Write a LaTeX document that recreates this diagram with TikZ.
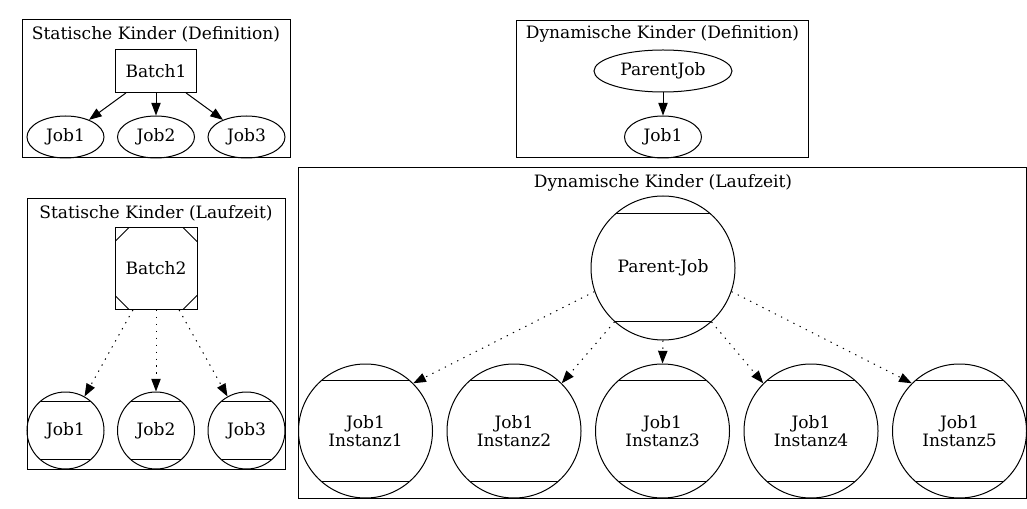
\documentclass[tikz,border=0pt]{standalone}
\usepackage{fontspec}
\setmainfont{DejaVu Serif}
\usetikzlibrary{arrows.meta,positioning,shapes.geometric}

\begin{document}
\begin{tikzpicture}[
  x=0.75pt, y=-0.75pt,
  font=\fontsize{12.8}{13.5}\selectfont,
  cluster/.style={draw, line width=0.75pt},
  title/.style={inner sep=0pt},
  jobbox/.style={draw, line width=0.75pt, minimum width=60.75pt, minimum height=32.25pt, inner sep=0pt},
  jobell/.style={draw, ellipse, line width=0.75pt, minimum width=57.75pt, minimum height=31.5pt, inner sep=0pt},
  mcircle/.style={draw, circle, line width=0.75pt, minimum size=#1, inner sep=0pt, align=center,
    path picture={
      \draw[line width=0.75pt] ([yshift=-0.125*#1]path picture bounding box.north west) -- ([yshift=-0.125*#1]path picture bounding box.north east);
      \draw[line width=0.75pt] ([yshift=0.125*#1]path picture bounding box.south west) -- ([yshift=0.125*#1]path picture bounding box.south east);
    }},
  msquare/.style={draw, line width=0.75pt, minimum size=61.5pt, inner sep=0pt,
    path picture={
      \draw[line width=0.75pt] ([yshift=-10.5pt]path picture bounding box.north west) -- ([xshift=10.5pt]path picture bounding box.north west);
      \draw[line width=0.75pt] ([yshift=-10.5pt]path picture bounding box.north east) -- ([xshift=-10.5pt]path picture bounding box.north east);
      \draw[line width=0.75pt] ([yshift=10.5pt]path picture bounding box.south west) -- ([xshift=10.5pt]path picture bounding box.south west);
      \draw[line width=0.75pt] ([yshift=10.5pt]path picture bounding box.south east) -- ([xshift=-10.5pt]path picture bounding box.south east);
    }},
  arrow/.style={-{Triangle[length=9.5pt, width=7pt]}, line width=0.75pt},
  dotarrow/.style={arrow, dash pattern=on 1pt off 4.2pt}
]
\useasboundingbox (0,0) rectangle (1027,509);

\draw[cluster] (22,20) rectangle (290,158);
\node[title] (t1) at (156,34) {Statische Kinder (Definition)};
\node[jobbox] (batch1) at (156,71) {Batch1};
\node[jobell] (s1job1) at (65.5,137) {Job1};
\node[jobell] (s1job2) at (156,137) {Job2};
\node[jobell] (s1job3) at (246.5,137) {Job3};
\draw[arrow] (batch1) -- (s1job1);
\draw[arrow] (batch1) -- (s1job2);
\draw[arrow] (batch1) -- (s1job3);

\draw[cluster] (516.5,20.5) rectangle (808.5,158);
\node[title] (t2) at (662.5,34) {Dynamische Kinder (Definition)};
\node[jobell, minimum width=103.5pt] (parentjob) at (663,71) {ParentJob};
\node[jobell] (d1job1) at (663,137) {Job1};
\draw[arrow] (parentjob) -- (d1job1);

\draw[cluster] (27,199) rectangle (285.5,469.5);
\node[title] (t3) at (156,213) {Statische Kinder (Laufzeit)};
\node[msquare] (batch2) at (156,268.5) {Batch2};
\node[mcircle=57.75pt] (s2job1) at (65.5,430.5) {Job1};
\node[mcircle=57.75pt] (s2job2) at (156,430.5) {Job2};
\node[mcircle=57.75pt] (s2job3) at (246.5,430.5) {Job3};
\draw[dotarrow] (batch2) -- (s2job1);
\draw[dotarrow] (batch2) -- (s2job2);
\draw[dotarrow] (batch2) -- (s2job3);

\draw[cluster] (298,168) rectangle (1026.5,498);
\node[title] (t4) at (663,182.5) {Dynamische Kinder (Laufzeit)};
\node[mcircle=108pt] (parent) at (663,268) {Parent-Job};
\foreach \i/\x in {1/365.5, 2/514, 3/662.5, 4/811, 5/959.5}
  \node[mcircle=100.5pt] (inst\i) at (\x,431) {Job1\\Instanz\i};
\draw[dotarrow] (parent.199) -- (inst1.45);
\draw[dotarrow] (parent.228) -- (inst2.45);
\draw[dotarrow] (parent.south) -- (inst3.north);
\draw[dotarrow] (parent.312) -- (inst4.135);
\draw[dotarrow] (parent.341) -- (inst5.135);
\end{tikzpicture}
\end{document}
